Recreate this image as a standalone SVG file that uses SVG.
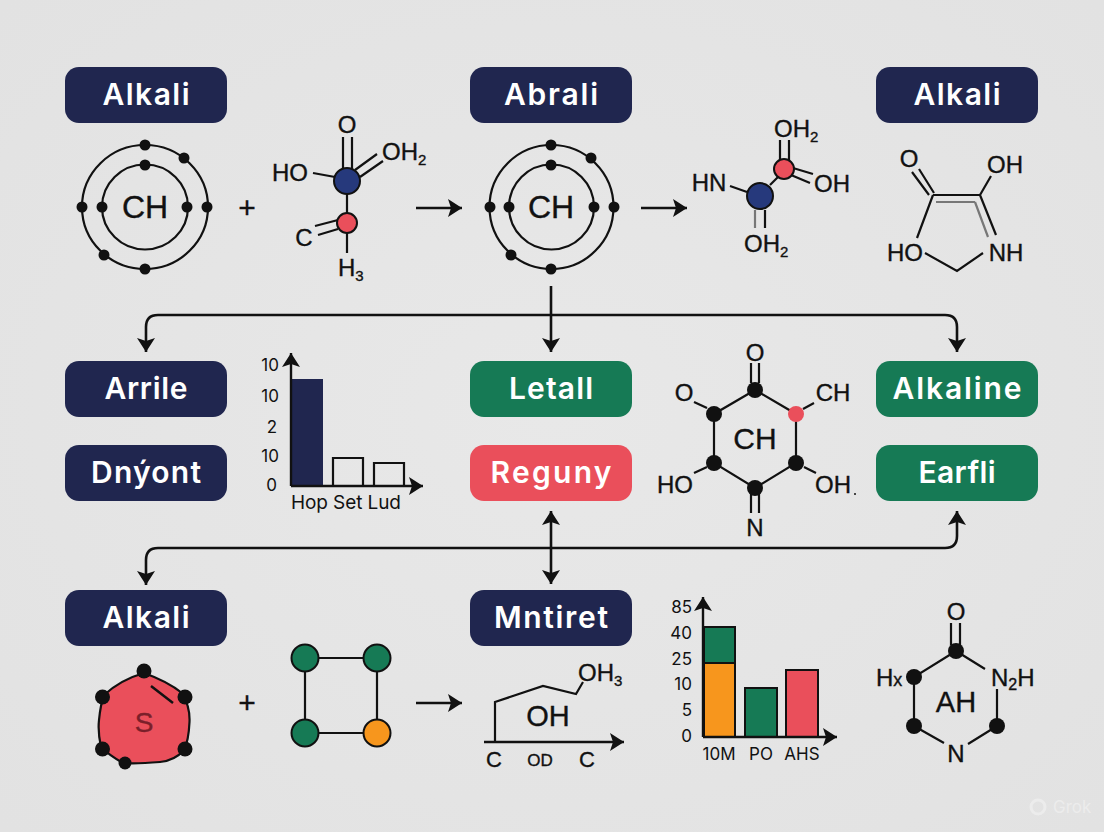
<svg xmlns="http://www.w3.org/2000/svg" width="1104" height="832" viewBox="0 0 1104 832">
<style>
.box{rx:14px;ry:14px}
.navy{fill:#20264f}.green{fill:#167a55}.red{fill:#ea4f5b}
.lbl{font-family:"Inter","Open Sans","Liberation Sans",sans-serif;font-weight:600;font-size:30px;fill:#fff;text-anchor:middle}
.chem{font-family:"Liberation Sans",Arial,sans-serif;font-size:24px;fill:#111;stroke:#111;stroke-width:.35;text-anchor:middle}
.start{text-anchor:start}
.big{font-size:32px}
.tick{font-family:"Inter","Liberation Sans",sans-serif;font-size:17px;fill:#111;text-anchor:end}
.cat{font-family:"Inter","Liberation Sans",sans-serif;font-size:17px;fill:#111;text-anchor:middle}
.ln{stroke:#111;stroke-width:2.2;fill:none}
.gr{stroke:#777;stroke-width:2.2;fill:none}
.wire{stroke:#111;stroke-width:2.6;fill:none}
.ax{stroke:#111;stroke-width:2.4;fill:none;marker-end:url(#ah)}
.d{fill:#111}
.out{stroke:#111;stroke-width:2}
</style>
<defs>
<radialGradient id="bg" cx="50%" cy="50%" r="70%"><stop offset="0" stop-color="#e8e8e8"/><stop offset="1" stop-color="#e2e2e2"/></radialGradient>
<marker id="ah" markerUnits="userSpaceOnUse" markerWidth="18" markerHeight="20" viewBox="0 -10 18 20" refX="14" refY="0" orient="auto-start-reverse"><path d="M0-9 14 0 0 9 3 0z" fill="#111"/></marker>
</defs>
<rect width="1104" height="832" fill="url(#bg)"/>

<g id="connectors">
<path class="wire" d="M551 286V352" marker-end="url(#ah)"/>
<path class="wire" d="M146 352V327Q146 315 158 315H945Q957 315 957 327V352" marker-start="url(#ah)" marker-end="url(#ah)"/>
<path class="wire" d="M146 585V560Q146 548 158 548H945Q957 548 957 536V511" marker-start="url(#ah)" marker-end="url(#ah)"/>
<path class="wire" d="M551 511V584" marker-start="url(#ah)" marker-end="url(#ah)"/>
<path class="wire" d="M416 208H462" marker-end="url(#ah)"/>
<path class="wire" d="M641 208H687" marker-end="url(#ah)"/>
<path class="wire" d="M416 703H462" marker-end="url(#ah)"/>
</g>

<g id="n-alkali-1"><rect class="box navy" x="65" y="67" width="162" height="56"/><text class="lbl" x="146" y="105" textLength="87">Alkali</text></g>
<g id="n-abrali"><rect class="box navy" x="470" y="67" width="162" height="56"/><text class="lbl" x="551" y="105" textLength="94">Abrali</text></g>
<g id="n-alkali-2"><rect class="box navy" x="876" y="67" width="162" height="56"/><text class="lbl" x="957" y="105" textLength="87">Alkali</text></g>
<g id="n-arrile"><rect class="box navy" x="65" y="361" width="162" height="56"/><text class="lbl" x="146" y="399" textLength="83">Arrile</text></g>
<g id="n-dnyont"><rect class="box navy" x="65" y="445" width="162" height="56"/><text class="lbl" x="146" y="483" textLength="110">Dnýont</text></g>
<g id="n-letall"><rect class="box green" x="470" y="361" width="162" height="56"/><text class="lbl" x="551" y="399" textLength="84">Letall</text></g>
<g id="n-reguny"><rect class="box red" x="470" y="445" width="162" height="56"/><text class="lbl" x="551" y="483" textLength="121">Reguny</text></g>
<g id="n-alkaline"><rect class="box green" x="876" y="361" width="162" height="56"/><text class="lbl" x="957" y="399" textLength="129">Alkaline</text></g>
<g id="n-earfli"><rect class="box green" x="876" y="445" width="162" height="56"/><text class="lbl" x="957" y="483" textLength="77">Earfli</text></g>
<g id="n-alkali-3"><rect class="box navy" x="65" y="590" width="162" height="56"/><text class="lbl" x="146" y="628" textLength="87">Alkali</text></g>
<g id="n-mntiret"><rect class="box navy" x="470" y="590" width="162" height="56"/><text class="lbl" x="551" y="628" textLength="114">Mntiret</text></g>

<g id="atom-1">
<ellipse class="ln" cx="145" cy="207" rx="63" ry="62"/><ellipse class="ln" cx="145" cy="207" rx="43" ry="42.500"/>
<g class="d"><circle cx="145" cy="145" r="5.500"/><circle cx="184" cy="158" r="5.500"/><circle cx="145" cy="165" r="5.500"/><circle cx="82" cy="207" r="5.500"/><circle cx="102" cy="207" r="5.500"/><circle cx="187" cy="207" r="5.500"/><circle cx="207" cy="207" r="5.500"/><circle cx="104" cy="255" r="5.500"/><circle cx="145" cy="269" r="5.500"/></g>
<text class="chem big" x="145" y="218">CH</text>
</g>
<text id="plus-1" class="chem" x="247" y="218" style="font-size:30px">+</text>
<g id="mol-1">
<path class="ln" d="M343 137V170M352 137V170M355 170 377 154M360 177 383 161M313 173 335 177M347 193V213M315 226 338 220M318 235 338 229M347 233V253"/>
<circle cx="347" cy="181" r="13" fill="#26397c" class="out"/><circle cx="347" cy="223" r="10" class="red out"/>
<text class="chem" x="347" y="133">O</text>
<text class="chem start" x="382" y="160">OH<tspan font-size="15" dy="5">2</tspan></text>
<text class="chem" x="290" y="181">HO</text>
<text class="chem" x="304" y="246">C</text>
<text class="chem start" x="338" y="276">H<tspan font-size="15" dy="5">3</tspan></text>
</g>
<g id="atom-2">
<ellipse class="ln" cx="551.500" cy="207" rx="62" ry="62"/><ellipse class="ln" cx="551.500" cy="207" rx="42.500" ry="42.500"/>
<g class="d"><circle cx="551" cy="145" r="5.500"/><circle cx="591" cy="158" r="5.500"/><circle cx="551" cy="165" r="5.500"/><circle cx="490" cy="207" r="5.500"/><circle cx="509" cy="207" r="5.500"/><circle cx="594" cy="207" r="5.500"/><circle cx="614" cy="207" r="5.500"/><circle cx="511" cy="255" r="5.500"/><circle cx="551" cy="269" r="5.500"/></g>
<text class="chem big" x="551" y="218">CH</text>
</g>
<g id="mol-2">
<path class="ln" d="M780 140V160M789 140V160M793 168 813 174M791 175 810 183M730 186 747 192M770 185 778 177M765 210V228"/>
<path class="gr" d="M755 210V228"/>
<circle cx="784" cy="169" r="10" class="red out"/><circle cx="760" cy="196" r="13" fill="#26397c" class="out"/>
<text class="chem start" x="774" y="137">OH<tspan font-size="15" dy="5">2</tspan></text>
<text class="chem" x="709" y="191">HN</text>
<text class="chem" x="832" y="192">OH</text>
<text class="chem start" x="744" y="252">OH<tspan font-size="15" dy="5">2</tspan></text>
</g>
<g id="mol-3">
<path class="ln" d="M912 172 929 195M919 169 934 193M933 195H980M980 195 991 176M933 195 917 238M980 195 996 235M925 253 957 271 983 253"/>
<path class="gr" d="M936 202H975M975 202 988 237"/>
<text class="chem" x="909" y="167">O</text>
<text class="chem" x="1005" y="173">OH</text>
<text class="chem" x="905" y="261">HO</text>
<text class="chem" x="1006" y="261">NH</text>
</g>

<g id="chart-1">
<rect x="291" y="379" width="32" height="107" class="navy"/>
<path class="ln" d="M333 486V458H363V486M374 486V463H404V486"/>
<path class="ax" d="M291 486V353"/><path class="ax" d="M291 486H423"/>
<text class="tick" x="279" y="371">10</text><text class="tick" x="279" y="402">10</text><text class="tick" x="277" y="433">2</text><text class="tick" x="279" y="462">10</text><text class="tick" x="277" y="491">0</text>
<text class="cat" x="346" y="509" style="font-size:19px" textLength="110">Hop Set Lud</text>
</g>
<g id="mol-4">
<path class="ln" d="M751 363V383M759 363V383M755 390 714 414V463L755 488 796 463V414L755 390M694 402 707 408M803 409 814 403M694 473 707 467M804 467 816 473M751 493V513M759 493V513"/>
<g class="d"><circle cx="755" cy="390" r="8"/><circle cx="714" cy="414" r="8"/><circle cx="714" cy="463" r="8"/><circle cx="796" cy="463" r="8"/><circle cx="755" cy="488" r="8"/></g>
<circle cx="796" cy="414" r="8" fill="#ea4f5b"/>
<text class="chem" x="755" y="361">O</text><text class="chem" x="684" y="401">O</text><text class="chem" x="833" y="401">CH</text>
<text class="chem" x="675" y="493">HO</text><text class="chem" x="833" y="493">OH</text><circle cx="855" cy="494" r="1" fill="#111"/>
<text class="chem" x="755" y="536">N</text><text class="chem" style="font-size:30px" x="755" y="449">CH</text>
</g>

<g id="atom-3">
<path class="red" stroke="#111" stroke-width="2.200" d="M144 673C158 678 172 685 182 693C188 703 190 711 189.500 722C189 733 188 742 184 750C177 758 170 761 160 762C148 763 135 764 123 763C114 758 107 753 101 747C99 738 98 729 99 720C100 710 101 703 104 695C115 685 130 677 144 673Z"/>
<path class="ln" d="M151 686 173 703" style="stroke-width:2.500"/>
<g class="d"><circle cx="144" cy="671" r="7.500"/><circle cx="102.500" cy="697" r="7.500"/><circle cx="185" cy="697" r="7.500"/><circle cx="102.500" cy="749" r="7.500"/><circle cx="185" cy="749" r="7.500"/><circle cx="125" cy="763" r="6.500"/></g>
<text class="chem" x="144" y="732" style="font-size:28px;fill:#7a1f2a;stroke:#7a1f2a">S</text>
</g>
<text id="plus-2" class="chem" x="247" y="713" style="font-size:30px">+</text>
<g id="mol-5">
<path class="ln" d="M305 658H377V733H305Z"/>
<circle cx="305" cy="658" r="13.500" class="green out"/><circle cx="377" cy="658" r="13.500" class="green out"/><circle cx="305" cy="733" r="13.500" class="green out"/><circle cx="377" cy="733" r="13.500" fill="#f7961d" class="out"/>
</g>
<g id="mol-6">
<path class="ln" d="M495 742V702L543 686 576 694 583 682"/>
<path class="ax" d="M484 742H624"/>
<text class="chem start" x="578" y="681">OH<tspan font-size="15" dy="5">3</tspan></text>
<text class="chem" style="font-size:29px" x="548" y="726">OH</text>
<text class="chem" style="font-size:22px" x="494" y="767">C</text><text class="chem" style="font-size:17px" x="540" y="766">OD</text><text class="chem" style="font-size:22px" x="587" y="767">C</text>
</g>
<g id="chart-3">
<rect x="704" y="663" width="31" height="74" fill="#f7961d" class="out"/><rect x="704" y="627" width="31" height="36" class="green out"/>
<rect x="745" y="688" width="32" height="49" class="green out"/><rect x="786" y="670" width="32" height="67" class="red out"/>
<path class="ax" d="M703 737V597"/><path class="ax" d="M703 737H837"/>
<text class="tick" x="692" y="613">85</text><text class="tick" x="692" y="639">40</text><text class="tick" x="692" y="665">25</text><text class="tick" x="692" y="690">10</text><text class="tick" x="692" y="716">5</text><text class="tick" x="692" y="742">0</text>
<text class="cat" x="719" y="760">10M</text><text class="cat" x="761" y="760">PO</text><text class="cat" x="802" y="760">AHS</text>
</g>
<g id="mol-7">
<path class="ln" d="M951 623V645M960 623V645M956 651 914 677V726M956 651 985 669M997 689V726M914 726 944 743M968 744 997 726"/>
<g class="d"><circle cx="956" cy="651" r="8"/><circle cx="914" cy="677" r="8"/><circle cx="914" cy="726" r="8"/><circle cx="997" cy="726" r="8"/></g>
<text class="chem" x="956" y="620">O</text><text class="chem start" x="876" y="686">H<tspan font-size="18">x</tspan></text>
<text class="chem start" x="991" y="686">N<tspan font-size="16" dy="4">2</tspan><tspan dy="-4">H</tspan></text>
<text class="chem" x="956" y="762">N</text><text class="chem" x="956" y="712" style="font-size:29px">AH</text>
</g>
<g id="watermark" fill="#ececec"><circle cx="1038" cy="807" r="7" fill="none" stroke="#ececec" stroke-width="3"/><text x="1053" y="813" font-family="Inter,sans-serif" font-size="17">Grok</text></g>
</svg>
